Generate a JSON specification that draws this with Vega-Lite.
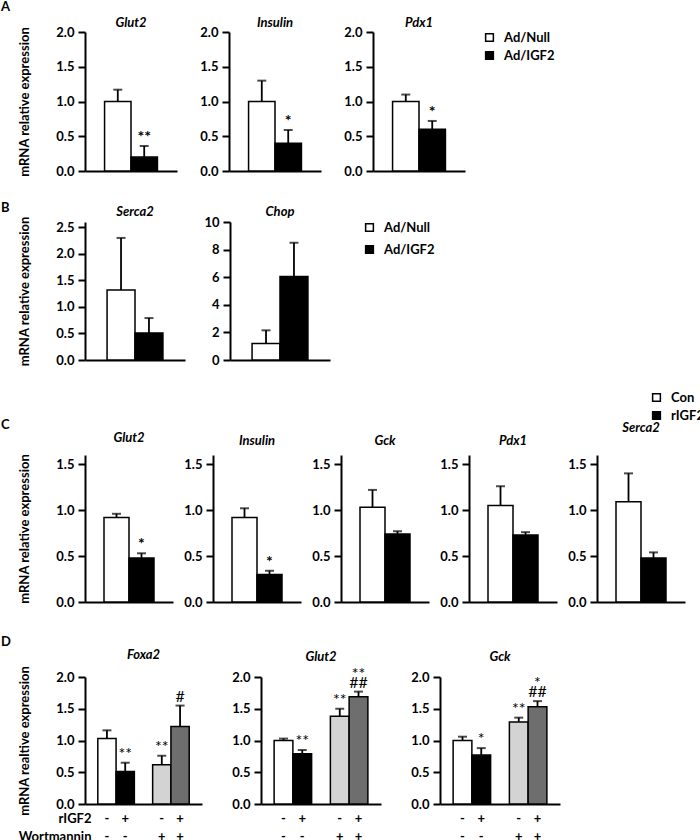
{
  "$schema": "https://vega.github.io/schema/vega-lite/v6.json",
  "padding": {"left": 1, "top": 0, "right": 0, "bottom": 0},
  "config": {
    "font": "Lato",
    "view": {"stroke": null},
    "axis": {"domainColor": "black", "domainWidth": 2, "tickColor": "black", "tickWidth": 2, "labelColor": "black", "labelFont": "Lato", "labelFontWeight": "bold", "labelFontSize": 13, "titleFont": "Lato", "titleFontWeight": "bold", "titleFontSize": 13, "titleColor": "black", "grid": false},
    "axisY": {"tickSize": 7, "labelPadding": 4, "titlePadding": 24},
    "axisX": {"ticks": false, "labels": false, "title": null},
    "title": {"font": "Lato", "fontSize": 13, "fontWeight": "bold", "fontStyle": "italic", "color": "black", "anchor": "middle", "frame": "group"},
    "legend": {"symbolType": "square", "symbolSize": 60, "symbolStrokeColor": "black", "symbolStrokeWidth": 1.5, "labelFont": "Lato", "labelFontSize": 13, "labelFontWeight": "bold", "labelColor": "black", "labelOffset": 8, "padding": 0}
  },
  "datasets": {
    "A": [
      {"gene": "Glut2", "group": "Ad/Null", "value": 1.0, "top": 1.17, "sig": ""},
      {"gene": "Glut2", "group": "Ad/IGF2", "value": 0.2, "top": 0.36, "sig": "**"},
      {"gene": "Insulin", "group": "Ad/Null", "value": 1.0, "top": 1.3, "sig": ""},
      {"gene": "Insulin", "group": "Ad/IGF2", "value": 0.4, "top": 0.59, "sig": "*"},
      {"gene": "Pdx1", "group": "Ad/Null", "value": 1.0, "top": 1.1, "sig": ""},
      {"gene": "Pdx1", "group": "Ad/IGF2", "value": 0.6, "top": 0.72, "sig": "*"}
    ],
    "B": [
      {"gene": "Serca2", "group": "Ad/Null", "value": 1.32, "top": 2.3, "sig": ""},
      {"gene": "Serca2", "group": "Ad/IGF2", "value": 0.51, "top": 0.79, "sig": ""},
      {"gene": "Chop", "group": "Ad/Null", "value": 1.2, "top": 2.15, "sig": ""},
      {"gene": "Chop", "group": "Ad/IGF2", "value": 6.05, "top": 8.5, "sig": ""}
    ],
    "C": [
      {"gene": "Glut2", "group": "Con", "value": 0.92, "top": 0.96, "sig": ""},
      {"gene": "Glut2", "group": "rIGF2", "value": 0.48, "top": 0.53, "sig": "*"},
      {"gene": "Insulin", "group": "Con", "value": 0.92, "top": 1.02, "sig": ""},
      {"gene": "Insulin", "group": "rIGF2", "value": 0.3, "top": 0.34, "sig": "*"},
      {"gene": "Gck", "group": "Con", "value": 1.03, "top": 1.22, "sig": ""},
      {"gene": "Gck", "group": "rIGF2", "value": 0.74, "top": 0.77, "sig": ""},
      {"gene": "Pdx1", "group": "Con", "value": 1.05, "top": 1.26, "sig": ""},
      {"gene": "Pdx1", "group": "rIGF2", "value": 0.73, "top": 0.76, "sig": ""},
      {"gene": "Serca2", "group": "Con", "value": 1.09, "top": 1.4, "sig": ""},
      {"gene": "Serca2", "group": "rIGF2", "value": 0.48, "top": 0.54, "sig": ""}
    ],
    "D": [
      {"gene": "Foxa2", "bar": "a", "value": 1.03, "top": 1.16, "sig": "", "sig2": ""},
      {"gene": "Foxa2", "bar": "b", "value": 0.51, "top": 0.65, "sig": "**", "sig2": ""},
      {"gene": "Foxa2", "bar": "c", "value": 0.62, "top": 0.76, "sig": "**", "sig2": ""},
      {"gene": "Foxa2", "bar": "d", "value": 1.22, "top": 1.55, "sig": "#", "sig2": ""},
      {"gene": "Glut2", "bar": "a", "value": 1.0, "top": 1.03, "sig": "", "sig2": ""},
      {"gene": "Glut2", "bar": "b", "value": 0.79, "top": 0.85, "sig": "**", "sig2": ""},
      {"gene": "Glut2", "bar": "c", "value": 1.38, "top": 1.5, "sig": "**", "sig2": ""},
      {"gene": "Glut2", "bar": "d", "value": 1.69, "top": 1.77, "sig": "##", "sig2": "**"},
      {"gene": "Gck", "bar": "a", "value": 1.0, "top": 1.06, "sig": "", "sig2": ""},
      {"gene": "Gck", "bar": "b", "value": 0.77, "top": 0.88, "sig": "*", "sig2": ""},
      {"gene": "Gck", "bar": "c", "value": 1.29, "top": 1.36, "sig": "**", "sig2": ""},
      {"gene": "Gck", "bar": "d", "value": 1.53, "top": 1.62, "sig": "##", "sig2": "*"}
    ]
  },
  "spacing": 24,
  "resolve": {"scale": {"fill": "independent"}, "legend": {"fill": "independent"}},
  "vconcat": [
    {
      "spacing": 23,
      "resolve": {"scale": {"fill": "independent"}, "legend": {"fill": "independent"}},
      "vconcat": [
        {
          "title": {"text": "A", "anchor": "start", "frame": "group", "dx": -84, "offset": 3, "fontStyle": "normal", "fontSize": 13},
          "bounds": "flush",
          "spacing": 52,
          "resolve": {"scale": {"y": "independent", "x": "independent", "fill": "independent"}, "legend": {"fill": "independent"}},
          "hconcat": [
            {
              "width": 92, "height": 139,
              "data": {"name": "A"},
              "transform": [{"filter": "datum.gene == 'Glut2'"}],
              "title": {"text": "Glut2", "offset": -3.5},
              "encoding": {"x": {"field": "group", "type": "nominal", "sort": null, "scale": {"domain": ["Ad/Null", "Ad/IGF2"], "paddingInner": 0, "paddingOuter": 0.74}, "axis": {"title": null, "labels": false, "ticks": false}}},
              "layer": [
                {"mark": {"type": "rule", "color": "black", "strokeWidth": 1.8}, "encoding": {"y": {"field": "value", "type": "quantitative", "scale": {"domain": [0, 2]}, "axis": {"values": [0, 0.5, 1, 1.5, 2], "format": ".1f", "title": "mRNA relative expression"}}, "y2": {"field": "top"}}},
                {"mark": {"type": "tick", "color": "black", "thickness": 2, "size": 9}, "encoding": {"y": {"field": "top", "type": "quantitative", "axis": {"values": [0, 0.5, 1, 1.5, 2], "format": ".1f", "title": "mRNA relative expression"}}}},
                {"mark": {"type": "bar", "stroke": "black", "strokeWidth": 1.5}, "encoding": {"y": {"field": "value", "type": "quantitative", "axis": {"values": [0, 0.5, 1, 1.5, 2], "format": ".1f", "title": "mRNA relative expression"}}, "fill": {"field": "group", "type": "nominal", "scale": {"domain": ["Ad/Null", "Ad/IGF2"], "range": ["white", "black"]}, "legend": null}}},
                {"mark": {"type": "text", "baseline": "bottom", "dy": -1, "fontSize": 16, "fontWeight": "bold", "color": "black"}, "encoding": {"y": {"field": "top", "type": "quantitative", "axis": {"values": [0, 0.5, 1, 1.5, 2], "format": ".1f", "title": "mRNA relative expression"}}, "text": {"field": "sig"}}}
              ]
            },
            {
              "width": 92, "height": 139,
              "data": {"name": "A"},
              "transform": [{"filter": "datum.gene == 'Insulin'"}],
              "title": {"text": "Insulin", "offset": -3.5},
              "encoding": {"x": {"field": "group", "type": "nominal", "sort": null, "scale": {"domain": ["Ad/Null", "Ad/IGF2"], "paddingInner": 0, "paddingOuter": 0.74}, "axis": {"title": null, "labels": false, "ticks": false}}},
              "layer": [
                {"mark": {"type": "rule", "color": "black", "strokeWidth": 1.8}, "encoding": {"y": {"field": "value", "type": "quantitative", "scale": {"domain": [0, 2]}, "axis": {"values": [0, 0.5, 1, 1.5, 2], "format": ".1f", "title": null}}, "y2": {"field": "top"}}},
                {"mark": {"type": "tick", "color": "black", "thickness": 2, "size": 9}, "encoding": {"y": {"field": "top", "type": "quantitative", "axis": {"values": [0, 0.5, 1, 1.5, 2], "format": ".1f", "title": null}}}},
                {"mark": {"type": "bar", "stroke": "black", "strokeWidth": 1.5}, "encoding": {"y": {"field": "value", "type": "quantitative", "axis": {"values": [0, 0.5, 1, 1.5, 2], "format": ".1f", "title": null}}, "fill": {"field": "group", "type": "nominal", "scale": {"domain": ["Ad/Null", "Ad/IGF2"], "range": ["white", "black"]}, "legend": null}}},
                {"mark": {"type": "text", "baseline": "bottom", "dy": -1, "fontSize": 16, "fontWeight": "bold", "color": "black"}, "encoding": {"y": {"field": "top", "type": "quantitative", "axis": {"values": [0, 0.5, 1, 1.5, 2], "format": ".1f", "title": null}}, "text": {"field": "sig"}}}
              ]
            },
            {
              "width": 92, "height": 139,
              "data": {"name": "A"},
              "transform": [{"filter": "datum.gene == 'Pdx1'"}],
              "title": {"text": "Pdx1", "offset": -3.5},
              "encoding": {"x": {"field": "group", "type": "nominal", "sort": null, "scale": {"domain": ["Ad/Null", "Ad/IGF2"], "paddingInner": 0, "paddingOuter": 0.74}, "axis": {"title": null, "labels": false, "ticks": false}}},
              "layer": [
                {"mark": {"type": "rule", "color": "black", "strokeWidth": 1.8}, "encoding": {"y": {"field": "value", "type": "quantitative", "scale": {"domain": [0, 2]}, "axis": {"values": [0, 0.5, 1, 1.5, 2], "format": ".1f", "title": null}}, "y2": {"field": "top"}}},
                {"mark": {"type": "tick", "color": "black", "thickness": 2, "size": 9}, "encoding": {"y": {"field": "top", "type": "quantitative", "axis": {"values": [0, 0.5, 1, 1.5, 2], "format": ".1f", "title": null}}}},
                {"mark": {"type": "bar", "stroke": "black", "strokeWidth": 1.5}, "encoding": {"y": {"field": "value", "type": "quantitative", "axis": {"values": [0, 0.5, 1, 1.5, 2], "format": ".1f", "title": null}}, "fill": {"field": "group", "type": "nominal", "scale": {"domain": ["Ad/Null", "Ad/IGF2"], "range": ["white", "black"]}, "legend": {"title": null, "orient": "none", "legendX": 110, "legendY": -1, "rowPadding": 3}}}},
                {"mark": {"type": "text", "baseline": "bottom", "dy": -1, "fontSize": 16, "fontWeight": "bold", "color": "black"}, "encoding": {"y": {"field": "top", "type": "quantitative", "axis": {"values": [0, 0.5, 1, 1.5, 2], "format": ".1f", "title": null}}, "text": {"field": "sig"}}}
              ]
            }
          ]
        },
        {
          "title": {"text": "B", "anchor": "start", "frame": "group", "dx": -84, "offset": -9, "fontStyle": "normal", "fontSize": 13},
          "bounds": "flush",
          "spacing": 45,
          "resolve": {"scale": {"y": "independent", "x": "independent", "fill": "independent"}, "legend": {"fill": "independent"}},
          "hconcat": [
            {
              "width": 100, "height": 138,
              "data": {"name": "B"},
              "transform": [{"filter": "datum.gene == 'Serca2'"}],
              "title": {"text": "Serca2", "offset": -2.5},
              "encoding": {"x": {"field": "group", "type": "nominal", "sort": null, "scale": {"domain": ["Ad/Null", "Ad/IGF2"], "paddingInner": 0, "paddingOuter": 0.79}, "axis": {"title": null, "labels": false, "ticks": false}}},
              "layer": [
                {"mark": {"type": "rule", "color": "black", "strokeWidth": 1.8}, "encoding": {"y": {"field": "value", "type": "quantitative", "scale": {"domain": [0, 2.5]}, "axis": {"values": [0, 0.5, 1, 1.5, 2, 2.5], "format": ".1f", "title": "mRNA relative expression"}}, "y2": {"field": "top"}}},
                {"mark": {"type": "tick", "color": "black", "thickness": 2, "size": 9}, "encoding": {"y": {"field": "top", "type": "quantitative", "axis": {"values": [0, 0.5, 1, 1.5, 2, 2.5], "format": ".1f", "title": "mRNA relative expression"}}}},
                {"mark": {"type": "bar", "stroke": "black", "strokeWidth": 1.5}, "encoding": {"y": {"field": "value", "type": "quantitative", "axis": {"values": [0, 0.5, 1, 1.5, 2, 2.5], "format": ".1f", "title": "mRNA relative expression"}}, "fill": {"field": "group", "type": "nominal", "scale": {"domain": ["Ad/Null", "Ad/IGF2"], "range": ["white", "black"]}, "legend": null}}}
              ]
            },
            {
              "width": 100, "height": 138,
              "data": {"name": "B"},
              "transform": [{"filter": "datum.gene == 'Chop'"}],
              "title": {"text": "Chop", "offset": -2.5},
              "encoding": {"x": {"field": "group", "type": "nominal", "sort": null, "scale": {"domain": ["Ad/Null", "Ad/IGF2"], "paddingInner": 0, "paddingOuter": 0.79}, "axis": {"title": null, "labels": false, "ticks": false}}},
              "layer": [
                {"mark": {"type": "rule", "color": "black", "strokeWidth": 1.8}, "encoding": {"y": {"field": "value", "type": "quantitative", "scale": {"domain": [0, 10]}, "axis": {"values": [0, 2, 4, 6, 8, 10], "format": "d", "title": null}}, "y2": {"field": "top"}}},
                {"mark": {"type": "tick", "color": "black", "thickness": 2, "size": 9}, "encoding": {"y": {"field": "top", "type": "quantitative", "axis": {"values": [0, 2, 4, 6, 8, 10], "format": "d", "title": null}}}},
                {"mark": {"type": "bar", "stroke": "black", "strokeWidth": 1.5}, "encoding": {"y": {"field": "value", "type": "quantitative", "axis": {"values": [0, 2, 4, 6, 8, 10], "format": "d", "title": null}}, "fill": {"field": "group", "type": "nominal", "scale": {"domain": ["Ad/Null", "Ad/IGF2"], "range": ["white", "black"]}, "legend": {"title": null, "orient": "none", "legendX": 133, "legendY": -1, "rowPadding": 7}}}}
              ]
            }
          ]
        }
      ]
    },
    {
      "spacing": 27,
      "resolve": {"scale": {"fill": "independent"}, "legend": {"fill": "independent"}},
      "vconcat": [
        {
          "title": {"text": "C", "anchor": "start", "frame": "group", "dx": -84, "offset": -41, "fontStyle": "normal", "fontSize": 13},
          "bounds": "flush",
          "spacing": 40,
          "resolve": {"scale": {"y": "independent", "x": "independent", "fill": "independent"}, "legend": {"fill": "independent"}},
          "hconcat": [
            {
              "width": 88, "height": 147,
              "data": {"name": "C"},
              "transform": [{"filter": "datum.gene == 'Glut2'"}],
              "title": {"text": "Glut2", "offset": 7},
              "encoding": {"x": {"field": "group", "type": "nominal", "sort": null, "scale": {"domain": ["Con", "rIGF2"], "paddingInner": 0, "paddingOuter": 0.76}, "axis": {"title": null, "labels": false, "ticks": false}}},
              "layer": [
                {"mark": {"type": "rule", "color": "black", "strokeWidth": 1.8}, "encoding": {"y": {"field": "value", "type": "quantitative", "scale": {"domain": [0, 1.5]}, "axis": {"values": [0, 0.5, 1, 1.5], "format": ".1f", "title": "mRNA  relative expression"}}, "y2": {"field": "top"}}},
                {"mark": {"type": "tick", "color": "black", "thickness": 2, "size": 9}, "encoding": {"y": {"field": "top", "type": "quantitative", "axis": {"values": [0, 0.5, 1, 1.5], "format": ".1f", "title": "mRNA  relative expression"}}}},
                {"mark": {"type": "bar", "stroke": "black", "strokeWidth": 1.5}, "encoding": {"y": {"field": "value", "type": "quantitative", "axis": {"values": [0, 0.5, 1, 1.5], "format": ".1f", "title": "mRNA  relative expression"}}, "fill": {"field": "group", "type": "nominal", "scale": {"domain": ["Con", "rIGF2"], "range": ["white", "black"]}, "legend": null}}},
                {"mark": {"type": "text", "baseline": "bottom", "dy": -1, "fontSize": 16, "fontWeight": "bold", "color": "black"}, "encoding": {"y": {"field": "top", "type": "quantitative", "axis": {"values": [0, 0.5, 1, 1.5], "format": ".1f", "title": "mRNA  relative expression"}}, "text": {"field": "sig"}}}
              ]
            },
            {
              "width": 88, "height": 147,
              "data": {"name": "C"},
              "transform": [{"filter": "datum.gene == 'Insulin'"}],
              "title": {"text": "Insulin", "offset": 7},
              "encoding": {"x": {"field": "group", "type": "nominal", "sort": null, "scale": {"domain": ["Con", "rIGF2"], "paddingInner": 0, "paddingOuter": 0.76}, "axis": {"title": null, "labels": false, "ticks": false}}},
              "layer": [
                {"mark": {"type": "rule", "color": "black", "strokeWidth": 1.8}, "encoding": {"y": {"field": "value", "type": "quantitative", "scale": {"domain": [0, 1.5]}, "axis": {"values": [0, 0.5, 1, 1.5], "format": ".1f", "title": null}}, "y2": {"field": "top"}}},
                {"mark": {"type": "tick", "color": "black", "thickness": 2, "size": 9}, "encoding": {"y": {"field": "top", "type": "quantitative", "axis": {"values": [0, 0.5, 1, 1.5], "format": ".1f", "title": null}}}},
                {"mark": {"type": "bar", "stroke": "black", "strokeWidth": 1.5}, "encoding": {"y": {"field": "value", "type": "quantitative", "axis": {"values": [0, 0.5, 1, 1.5], "format": ".1f", "title": null}}, "fill": {"field": "group", "type": "nominal", "scale": {"domain": ["Con", "rIGF2"], "range": ["white", "black"]}, "legend": null}}},
                {"mark": {"type": "text", "baseline": "bottom", "dy": -1, "fontSize": 16, "fontWeight": "bold", "color": "black"}, "encoding": {"y": {"field": "top", "type": "quantitative", "axis": {"values": [0, 0.5, 1, 1.5], "format": ".1f", "title": null}}, "text": {"field": "sig"}}}
              ]
            },
            {
              "width": 88, "height": 147,
              "data": {"name": "C"},
              "transform": [{"filter": "datum.gene == 'Gck'"}],
              "title": {"text": "Gck", "offset": 7},
              "encoding": {"x": {"field": "group", "type": "nominal", "sort": null, "scale": {"domain": ["Con", "rIGF2"], "paddingInner": 0, "paddingOuter": 0.76}, "axis": {"title": null, "labels": false, "ticks": false}}},
              "layer": [
                {"mark": {"type": "rule", "color": "black", "strokeWidth": 1.8}, "encoding": {"y": {"field": "value", "type": "quantitative", "scale": {"domain": [0, 1.5]}, "axis": {"values": [0, 0.5, 1, 1.5], "format": ".1f", "title": null}}, "y2": {"field": "top"}}},
                {"mark": {"type": "tick", "color": "black", "thickness": 2, "size": 9}, "encoding": {"y": {"field": "top", "type": "quantitative", "axis": {"values": [0, 0.5, 1, 1.5], "format": ".1f", "title": null}}}},
                {"mark": {"type": "bar", "stroke": "black", "strokeWidth": 1.5}, "encoding": {"y": {"field": "value", "type": "quantitative", "axis": {"values": [0, 0.5, 1, 1.5], "format": ".1f", "title": null}}, "fill": {"field": "group", "type": "nominal", "scale": {"domain": ["Con", "rIGF2"], "range": ["white", "black"]}, "legend": null}}}
              ]
            },
            {
              "width": 88, "height": 147,
              "data": {"name": "C"},
              "transform": [{"filter": "datum.gene == 'Pdx1'"}],
              "title": {"text": "Pdx1", "offset": 7},
              "encoding": {"x": {"field": "group", "type": "nominal", "sort": null, "scale": {"domain": ["Con", "rIGF2"], "paddingInner": 0, "paddingOuter": 0.76}, "axis": {"title": null, "labels": false, "ticks": false}}},
              "layer": [
                {"mark": {"type": "rule", "color": "black", "strokeWidth": 1.8}, "encoding": {"y": {"field": "value", "type": "quantitative", "scale": {"domain": [0, 1.5]}, "axis": {"values": [0, 0.5, 1, 1.5], "format": ".1f", "title": null}}, "y2": {"field": "top"}}},
                {"mark": {"type": "tick", "color": "black", "thickness": 2, "size": 9}, "encoding": {"y": {"field": "top", "type": "quantitative", "axis": {"values": [0, 0.5, 1, 1.5], "format": ".1f", "title": null}}}},
                {"mark": {"type": "bar", "stroke": "black", "strokeWidth": 1.5}, "encoding": {"y": {"field": "value", "type": "quantitative", "axis": {"values": [0, 0.5, 1, 1.5], "format": ".1f", "title": null}}, "fill": {"field": "group", "type": "nominal", "scale": {"domain": ["Con", "rIGF2"], "range": ["white", "black"]}, "legend": null}}}
              ]
            },
            {
              "width": 88, "height": 147,
              "data": {"name": "C"},
              "transform": [{"filter": "datum.gene == 'Serca2'"}],
              "title": {"text": "Serca2", "offset": -43.5},
              "encoding": {"x": {"field": "group", "type": "nominal", "sort": null, "scale": {"domain": ["Con", "rIGF2"], "paddingInner": 0, "paddingOuter": 0.76}, "axis": {"title": null, "labels": false, "ticks": false}}},
              "layer": [
                {"mark": {"type": "rule", "color": "black", "strokeWidth": 1.8}, "encoding": {"y": {"field": "value", "type": "quantitative", "scale": {"domain": [0, 1.5]}, "axis": {"values": [0, 0.5, 1, 1.5], "format": ".1f", "title": null}}, "y2": {"field": "top"}}},
                {"mark": {"type": "tick", "color": "black", "thickness": 2, "size": 9}, "encoding": {"y": {"field": "top", "type": "quantitative", "axis": {"values": [0, 0.5, 1, 1.5], "format": ".1f", "title": null}}}},
                {"mark": {"type": "bar", "stroke": "black", "strokeWidth": 1.5}, "encoding": {"y": {"field": "value", "type": "quantitative", "axis": {"values": [0, 0.5, 1, 1.5], "format": ".1f", "title": null}}, "fill": {"field": "group", "type": "nominal", "scale": {"domain": ["Con", "rIGF2"], "range": ["white", "black"]}, "legend": {"title": null, "orient": "none", "legendX": 53, "legendY": -64, "rowPadding": 3}}}}
              ]
            }
          ]
        },
        {
          "title": {"text": "D", "anchor": "start", "frame": "group", "dx": -84, "offset": 0, "fontStyle": "normal", "fontSize": 13},
          "bounds": "flush",
          "spacing": 59,
          "resolve": {"scale": {"y": "independent", "x": "independent", "fill": "independent"}},
          "hconcat": [
            {
              "width": 117, "height": 127,
              "data": {"name": "D"},
              "transform": [{"filter": "datum.gene == 'Foxa2'"}],
              "title": {"text": "Foxa2", "offset": 3},
              "encoding": {"x": {"field": "bar", "type": "nominal", "sort": null, "scale": {"domain": ["a", "b", "gap", "c", "d"], "paddingInner": 0, "paddingOuter": 0.7}, "axis": {"labels": true, "ticks": false, "labelExpr": "datum.value == 'a' ? ['-', '-'] : datum.value == 'b' ? ['+', '-'] : datum.value == 'c' ? ['-', '+'] : datum.value == 'd' ? ['+', '+'] : ''", "labelAngle": 0, "labelBaseline": "top", "labelPadding": 8, "labelLineHeight": 18, "title": ["rIGF2", "Wortmannin"], "titleFontSize": 13, "titleAlign": "right", "titleBaseline": "top", "titleX": 6, "titleY": 8, "titleLineHeight": 18}}},
              "layer": [
                {"mark": {"type": "rule", "color": "black", "strokeWidth": 1.8}, "encoding": {"y": {"field": "value", "type": "quantitative", "scale": {"domain": [0, 2]}, "axis": {"values": [0, 0.5, 1, 1.5, 2], "format": ".1f", "title": "mRNA realtive expression"}}, "y2": {"field": "top"}}},
                {"mark": {"type": "tick", "color": "black", "thickness": 2, "size": 9}, "encoding": {"y": {"field": "top", "type": "quantitative", "axis": {"values": [0, 0.5, 1, 1.5, 2], "format": ".1f", "title": "mRNA realtive expression"}}}},
                {"mark": {"type": "bar", "stroke": "black", "strokeWidth": 1.5}, "encoding": {"y": {"field": "value", "type": "quantitative", "axis": {"values": [0, 0.5, 1, 1.5, 2], "format": ".1f", "title": "mRNA realtive expression"}}, "fill": {"field": "bar", "type": "nominal", "scale": {"domain": ["a", "b", "c", "d"], "range": ["white", "black", "#d3d3d3", "#6e6e6e"]}, "legend": null}}},
                {"mark": {"type": "text", "baseline": "bottom", "dy": -1, "fontSize": 16, "color": "black"}, "encoding": {"y": {"field": "top", "type": "quantitative", "axis": {"values": [0, 0.5, 1, 1.5, 2], "format": ".1f", "title": "mRNA realtive expression"}}, "text": {"field": "sig"}}},
                {"mark": {"type": "text", "baseline": "bottom", "dy": -10, "fontSize": 16, "color": "black"}, "encoding": {"y": {"field": "top", "type": "quantitative", "axis": {"values": [0, 0.5, 1, 1.5, 2], "format": ".1f", "title": "mRNA realtive expression"}}, "text": {"field": "sig2"}}}
              ]
            },
            {
              "width": 120, "height": 127,
              "data": {"name": "D"},
              "transform": [{"filter": "datum.gene == 'Glut2'"}],
              "title": {"text": "Glut2", "offset": 2},
              "encoding": {"x": {"field": "bar", "type": "nominal", "sort": null, "scale": {"domain": ["a", "b", "gap", "c", "d"], "paddingInner": 0, "paddingOuter": 0.7}, "axis": {"labels": true, "ticks": false, "labelExpr": "datum.value == 'a' ? ['-', '-'] : datum.value == 'b' ? ['+', '-'] : datum.value == 'c' ? ['-', '+'] : datum.value == 'd' ? ['+', '+'] : ''", "labelAngle": 0, "labelBaseline": "top", "labelPadding": 8, "labelLineHeight": 18, "title": null}}},
              "layer": [
                {"mark": {"type": "rule", "color": "black", "strokeWidth": 1.8}, "encoding": {"y": {"field": "value", "type": "quantitative", "scale": {"domain": [0, 2]}, "axis": {"values": [0, 0.5, 1, 1.5, 2], "format": ".1f", "title": null}}, "y2": {"field": "top"}}},
                {"mark": {"type": "tick", "color": "black", "thickness": 2, "size": 9}, "encoding": {"y": {"field": "top", "type": "quantitative", "axis": {"values": [0, 0.5, 1, 1.5, 2], "format": ".1f", "title": null}}}},
                {"mark": {"type": "bar", "stroke": "black", "strokeWidth": 1.5}, "encoding": {"y": {"field": "value", "type": "quantitative", "axis": {"values": [0, 0.5, 1, 1.5, 2], "format": ".1f", "title": null}}, "fill": {"field": "bar", "type": "nominal", "scale": {"domain": ["a", "b", "c", "d"], "range": ["white", "black", "#d3d3d3", "#6e6e6e"]}, "legend": null}}},
                {"mark": {"type": "text", "baseline": "bottom", "dy": -1, "fontSize": 16, "color": "black"}, "encoding": {"y": {"field": "top", "type": "quantitative", "axis": {"values": [0, 0.5, 1, 1.5, 2], "format": ".1f", "title": null}}, "text": {"field": "sig"}}},
                {"mark": {"type": "text", "baseline": "bottom", "dy": -10, "fontSize": 16, "color": "black"}, "encoding": {"y": {"field": "top", "type": "quantitative", "axis": {"values": [0, 0.5, 1, 1.5, 2], "format": ".1f", "title": null}}, "text": {"field": "sig2"}}}
              ]
            },
            {
              "width": 120, "height": 127,
              "data": {"name": "D"},
              "transform": [{"filter": "datum.gene == 'Gck'"}],
              "title": {"text": "Gck", "offset": 7},
              "encoding": {"x": {"field": "bar", "type": "nominal", "sort": null, "scale": {"domain": ["a", "b", "gap", "c", "d"], "paddingInner": 0, "paddingOuter": 0.7}, "axis": {"labels": true, "ticks": false, "labelExpr": "datum.value == 'a' ? ['-', '-'] : datum.value == 'b' ? ['+', '-'] : datum.value == 'c' ? ['-', '+'] : datum.value == 'd' ? ['+', '+'] : ''", "labelAngle": 0, "labelBaseline": "top", "labelPadding": 8, "labelLineHeight": 18, "title": null}}},
              "layer": [
                {"mark": {"type": "rule", "color": "black", "strokeWidth": 1.8}, "encoding": {"y": {"field": "value", "type": "quantitative", "scale": {"domain": [0, 2]}, "axis": {"values": [0, 0.5, 1, 1.5, 2], "format": ".1f", "title": null}}, "y2": {"field": "top"}}},
                {"mark": {"type": "tick", "color": "black", "thickness": 2, "size": 9}, "encoding": {"y": {"field": "top", "type": "quantitative", "axis": {"values": [0, 0.5, 1, 1.5, 2], "format": ".1f", "title": null}}}},
                {"mark": {"type": "bar", "stroke": "black", "strokeWidth": 1.5}, "encoding": {"y": {"field": "value", "type": "quantitative", "axis": {"values": [0, 0.5, 1, 1.5, 2], "format": ".1f", "title": null}}, "fill": {"field": "bar", "type": "nominal", "scale": {"domain": ["a", "b", "c", "d"], "range": ["white", "black", "#d3d3d3", "#6e6e6e"]}, "legend": null}}},
                {"mark": {"type": "text", "baseline": "bottom", "dy": -1, "fontSize": 16, "color": "black"}, "encoding": {"y": {"field": "top", "type": "quantitative", "axis": {"values": [0, 0.5, 1, 1.5, 2], "format": ".1f", "title": null}}, "text": {"field": "sig"}}},
                {"mark": {"type": "text", "baseline": "bottom", "dy": -10, "fontSize": 16, "color": "black"}, "encoding": {"y": {"field": "top", "type": "quantitative", "axis": {"values": [0, 0.5, 1, 1.5, 2], "format": ".1f", "title": null}}, "text": {"field": "sig2"}}}
              ]
            }
          ]
        }
      ]
    }
  ]
}
